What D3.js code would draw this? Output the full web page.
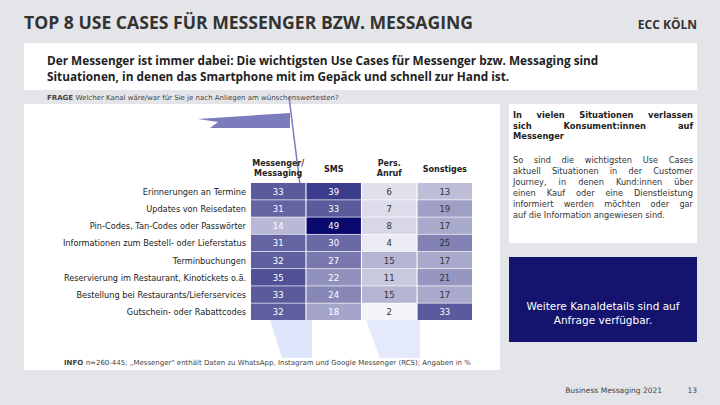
<!DOCTYPE html><html><head><meta charset="utf-8"><script src="https://cdn.jsdelivr.net/npm/d3@7"></script>
<style>body{margin:0;background:#e3e5e8;font-family:Verdana,"DejaVu Sans",sans-serif}</style></head><body>
<svg id="c" width="720" height="405"></svg>
<script>
const categories=["Erinnerungen an Termine","Updates von Reisedaten","Pin-Codes, Tan-Codes oder Passwörter","Informationen zum Bestell- oder Lieferstatus","Terminbuchungen","Reservierung im Restaurant, Kinotickets o.ä.","Bestellung bei Restaurants/Lieferservices","Gutschein- oder Rabattcodes"];
const channels=[["Messenger/","Messaging"],["SMS"],["Pers.","Anruf"],["Sonstiges"]];
const messenger=[33,31,14,31,32,35,33,32];
const sms=[39,33,49,30,27,22,24,18];
const anruf=[6,7,8,4,15,11,15,2];
const sonstiges=[13,19,17,25,17,21,17,33];
const series=[messenger,sms,anruf,sonstiges];
const svg=d3.select("#c");
svg.append("rect").attr("width",720).attr("height",405).attr("fill","#e3e5e8");
svg.append("text").attr("x",24).attr("y",29).attr("font-family","'Open Sans',sans-serif").attr("font-weight",700).attr("font-size",17.6).attr("fill","#333").text("TOP 8 USE CASES FÜR MESSENGER BZW. MESSAGING");
svg.append("text").attr("x",697).attr("y",29).attr("text-anchor","end").attr("font-family","'Open Sans',sans-serif").attr("font-weight",700).attr("font-size",12).attr("fill","#333").text("ECC KÖLN");
svg.append("rect").attr("x",24).attr("y",43).attr("width",673).attr("height",47).attr("fill","#fff");
["Der Messenger ist immer dabei: Die wichtigsten Use Cases für Messenger bzw. Messaging sind","Situationen, in denen das Smartphone mit im Gepäck und schnell zur Hand ist."].forEach((t,i)=>
svg.append("text").attr("x",47).attr("y",65+i*16).attr("font-family","'Open Sans',sans-serif").attr("font-weight",700).attr("font-size",11.8).attr("fill","#222").text(t));
const fq=svg.append("text").attr("x",47).attr("y",100).attr("font-size",7).attr("fill","#444");
fq.append("tspan").attr("font-weight",700).text("FRAGE ");fq.append("tspan").text("Welcher Kanal wäre/war für Sie je nach Anliegen am wünschenswertesten?");
svg.append("rect").attr("x",24).attr("y",104).attr("width",476).attr("height",266).attr("fill","#fff");
svg.append("path").attr("d","M198,119 L290,113 L290,128 L210,128 L218,122 Z").attr("fill","#7b7bbd");
svg.append("line").attr("x1",289).attr("y1",97).attr("x2",300).attr("y2",185).attr("stroke","#7b7bbd").attr("stroke-width",1.5);
svg.append("path").attr("d","M270,320 L312,320 L312,358 L282,358 Z").attr("fill","#dfe6fb");
svg.append("path").attr("d","M366,320 L420,320 L420,358 L380,358 Z").attr("fill","#e4eafb");
const x=d3.scaleBand().domain(d3.range(4)).range([251,472]).paddingInner(0.02);
const y=d3.scaleBand().domain(categories).range([183,320]).paddingInner(0.04);
const color=d3.scaleLinear().domain([0,49]).range(["#ffffff","#0a0a6e"]);
series.forEach((vals,ci)=>{
  vals.forEach((v,ri)=>{
    const g=svg.append("g");
    g.append("rect").attr("x",x(ci)).attr("y",y(categories[ri])).attr("width",x.bandwidth()).attr("height",y.bandwidth()).attr("fill",color(v));
    g.append("text").attr("x",x(ci)+x.bandwidth()/2).attr("y",y(categories[ri])+y.bandwidth()/2+3.5).attr("text-anchor","middle").attr("font-size",8.5)
     .attr("fill",(ci<2||v>=30)?"#fff":"#333").text(v);
  });
  const h=svg.append("text").attr("x",x(ci)+x.bandwidth()/2).attr("font-size",8).attr("font-weight",700).attr("text-anchor","middle").attr("fill","#222");
  const lines=channels[ci];
  lines.forEach((l,i)=>h.append("tspan").attr("x",x(ci)+x.bandwidth()/2).attr("y",lines.length==2?166+i*10:172).text(l));
});
categories.forEach(c=>svg.append("text").attr("x",246).attr("y",y(c)+y.bandwidth()/2+3.5).attr("text-anchor","end").attr("font-size",8.2).attr("fill","#222").text(c));
const info=svg.append("text").attr("x",64).attr("y",365).attr("font-size",7).attr("fill","#444");
info.append("tspan").attr("font-weight",700).text("INFO ");info.append("tspan").text("  n=260-445; „Messenger\" enthält Daten zu WhatsApp, Instagram und Google Messenger (RCS); Angaben in %");
svg.append("rect").attr("x",509).attr("y",104).attr("width",188).attr("height",139).attr("fill","#fff");
function justify(lines,y0,lh,fs,fw,col){
  lines.forEach((t,i)=>{const e=svg.append("text").attr("x",513).attr("y",y0+i*lh).attr("font-size",fs).attr("font-weight",fw).attr("fill",col).text(t);
    if(i<lines.length-1){const w=e.node().getComputedTextLength();const gaps=t.split(" ").length-1;if(gaps>0)e.attr("word-spacing",Math.max(0,(180-w)/gaps));}});
}
justify(["In vielen Situationen verlassen","sich Konsument:innen auf","Messenger"],118,10.5,8.3,700,"#222");
justify(["So sind die wichtigsten Use Cases","aktuell Situationen in der Customer","Journey, in denen Kund:innen über","einen Kauf oder eine Dienstleistung","informiert werden möchten oder gar","auf die Information angewiesen sind."],163,11,8.2,400,"#333");
svg.append("rect").attr("x",509).attr("y",257).attr("width",188).attr("height",85).attr("fill","#14146e");
["Weitere Kanaldetails sind auf","Anfrage verfügbar."].forEach((t,i)=>svg.append("text").attr("x",603).attr("y",310+i*14).attr("text-anchor","middle").attr("font-size",10.5).attr("fill","#fff").text(t));
svg.append("text").attr("x",662).attr("y",393).attr("text-anchor","end").attr("font-size",7.5).attr("fill","#444").text("Business Messaging 2021");
svg.append("text").attr("x",697).attr("y",393).attr("text-anchor","end").attr("font-size",7.5).attr("fill","#444").text("13");
</script></body></html>
